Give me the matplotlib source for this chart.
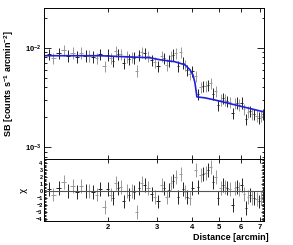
import matplotlib
matplotlib.use("Agg")
import matplotlib.pyplot as plt
import numpy as np
from matplotlib.ticker import FixedLocator, NullFormatter, FixedFormatter, LogLocator

plt.rcParams['font.family'] = ['Liberation Sans', 'DejaVu Sans']
plt.rcParams['font.weight'] = 'bold'
plt.rcParams['mathtext.fontset'] = 'custom'
plt.rcParams['mathtext.rm'] = 'Liberation Sans:bold'
plt.rcParams['mathtext.bf'] = 'Liberation Sans:bold'
plt.rcParams['mathtext.it'] = 'Liberation Sans:bold'

# Data: radial bins [arcmin], surface brightness, chi residuals
radius = [1.229, 1.270, 1.335, 1.391, 1.438, 1.498, 1.548, 1.601, 1.668, 1.710,
          1.767, 1.826, 1.872, 1.951, 2.000, 2.050, 2.084, 2.136, 2.171, 2.226,
          2.282, 2.339, 2.378, 2.438, 2.479, 2.541, 2.583, 2.648, 2.714, 2.782,
          2.875, 2.947, 3.021, 3.122, 3.174, 3.254, 3.308, 3.364, 3.420, 3.505,
          3.564, 3.653, 3.714, 3.776, 3.838, 3.935, 4.000, 4.135, 4.204, 4.309,
          4.381, 4.490, 4.565, 4.680, 4.757, 4.876, 4.957, 5.082, 5.167, 5.253,
          5.341, 5.475, 5.611, 5.705, 5.799, 5.896, 6.043, 6.143, 6.245, 6.350,
          6.455, 6.563, 6.672, 6.839, 6.953, 7.069, 7.187]
sb = [8.57e-3, 7.88e-3, 8.75e-3, 9.51e-3, 8.30e-3, 8.93e-3, 8.13e-3, 8.93e-3, 8.30e-3, 8.30e-3,
      8.13e-3, 7.88e-3, 8.57e-3, 6.50e-3, 8.50e-3, 7.80e-3, 7.38e-3, 9.27e-3, 8.60e-3, 8.67e-3,
      6.94e-3, 8.10e-3, 7.67e-3, 8.06e-3, 7.96e-3, 5.86e-3, 8.44e-3, 9.05e-3, 8.75e-3, 8.28e-3,
      7.53e-3, 7.12e-3, 6.53e-3, 8.26e-3, 7.79e-3, 6.74e-3, 7.43e-3, 8.20e-3, 8.50e-3, 8.84e-3,
      6.50e-3, 8.99e-3, 7.05e-3, 6.66e-3, 5.91e-3, 5.40e-3, 5.79e-3, 5.15e-3, 3.40e-3, 4.02e-3,
      4.08e-3, 4.08e-3, 4.22e-3, 4.38e-3, 3.45e-3, 3.66e-3, 2.64e-3, 3.00e-3, 3.13e-3, 3.00e-3,
      2.91e-3, 2.82e-3, 2.18e-3, 2.78e-3, 2.80e-3, 2.68e-3, 2.81e-3, 2.42e-3, 1.92e-3, 2.27e-3,
      2.29e-3, 2.17e-3, 2.15e-3, 2.07e-3, 1.98e-3, 2.07e-3, 2.13e-3]
chi = [0.3, -0.5, 0.5, 1.3, 0.0, 0.7, -0.2, 0.7, 0.0, 0.0,
       -0.2, -0.5, 0.3, -2.3, 0.3, -0.5, -1.0, 1.2, 0.5, 0.6,
       -1.5, 0.0, -0.5, 0.0, -0.1, -3.0, 0.5, 1.2, 0.9, 0.4,
       -0.4, -0.8, -1.5, 0.9, 0.4, -0.9, 0.1, 1.1, 1.5, 2.0,
       -0.8, 2.5, 0.3, -0.1, -0.8, -1.0, 0.4, 3.0, 0.6, 2.3,
       2.5, 2.6, 3.0, 3.5, 1.3, 2.0, -1.0, 0.4, 0.9, 0.6,
       0.4, 0.3, -2.0, 0.4, 0.6, 0.3, 0.9, -0.4, -2.5, -0.8,
       -0.6, -1.0, -1.0, -1.2, -1.5, -1.0, -0.6]
rel_err = 0.13

# Model (broken power-law fit)
model_r = [1.179, 1.872, 2.828, 3.072, 3.476, 3.776, 3.935, 4.033, 4.101, 4.169,
           4.455, 4.836, 7.246]
model_sb = [8.30e-3, 8.30e-3, 7.92e-3, 7.56e-3, 7.22e-3, 6.73e-3, 6.00e-3, 5.34e-3,
            4.43e-3, 3.20e-3, 3.13e-3, 2.98e-3, 2.26e-3]

r = np.array(radius)
edges = np.sqrt(r[1:] * r[:-1])
lo = np.concatenate([[r[0] - (edges[0] - r[0])], edges])
hi = np.concatenate([edges, [r[-1] + (r[-1] - edges[-1])]])
xerr = np.vstack([r - lo, hi - r])
sb_a = np.array(sb)
colors = ['#222222', '#999999']

fig = plt.figure(figsize=(2.93, 2.45), dpi=100)
ax1 = fig.add_axes([0.150, 0.351, 0.751, 0.616])
ax2 = fig.add_axes([0.150, 0.098, 0.751, 0.253], sharex=ax1)

for k in range(2):
    idx = slice(k, None, 2)
    ax1.errorbar(r[idx], sb_a[idx], yerr=rel_err * sb_a[idx], xerr=xerr[:, idx],
                 fmt='none', ecolor=colors[k], elinewidth=0.7, capsize=0)
    ax2.errorbar(r[idx], np.array(chi)[idx], yerr=1.0, xerr=xerr[:, idx],
                 fmt='none', ecolor=colors[k], elinewidth=0.7, capsize=0)
ax1.plot(model_r, model_sb, color='#1f1fe0', lw=1.2)
ax2.axhline(0, color='#555555', lw=0.8)

ax1.set_xscale('log')
ax1.set_yscale('log')
ax1.set_xlim(1.18, 7.25)
ax1.set_ylim(7.6e-4, 2.5e-2)
ax2.set_ylim(-4.3, 4.6)

xt = [2, 3, 4, 5, 6, 7]
for ax in (ax1, ax2):
    ax.xaxis.set_major_locator(FixedLocator(xt))
    ax.xaxis.set_minor_locator(FixedLocator([]))
    ax.tick_params(which='both', direction='in', top=True, right=True,
                   width=0.6, labelsize=5.5, pad=2)
    ax.tick_params(which='major', length=3)
    ax.tick_params(which='minor', length=1.8)
    for s in ax.spines.values():
        s.set_linewidth(0.7)
ax1.tick_params(labelbottom=False)
ax2.xaxis.set_major_formatter(FixedFormatter([str(v) for v in xt]))

ax1.yaxis.set_major_locator(FixedLocator([1e-3, 1e-2]))
ax1.yaxis.set_major_formatter(FixedFormatter([r'$10^{-3}$', r'$10^{-2}$']))
ax1.yaxis.set_minor_locator(LogLocator(base=10, subs=np.arange(2, 10)))
ax1.yaxis.set_minor_formatter(NullFormatter())
ax1.tick_params(axis='y', which='major', length=5)

ax2.yaxis.set_major_locator(FixedLocator([-4, -3, -2, -1, 0, 1, 2, 3, 4]))
ax2.yaxis.set_minor_locator(FixedLocator(np.arange(-4.2, 4.6, 0.2)))
ax2.tick_params(axis='y', which='major', labelsize=4, length=2.5, pad=1)
ax2.tick_params(axis='y', which='minor', length=1.3)

ax1.set_ylabel(r'SB [counts s$^{-1}$ arcmin$^{-2}$]', fontsize=6.5, fontweight='bold', labelpad=6)
ax2.set_ylabel('χ', fontsize=6.5, fontweight='normal', family=['DejaVu Sans'], labelpad=6)
ax2.set_xlabel('Distance [arcmin]', fontsize=6.5, fontweight='bold', labelpad=2)
ax2.xaxis.set_label_coords(0.85, -0.2)

fig.savefig('out.png', dpi=100)
